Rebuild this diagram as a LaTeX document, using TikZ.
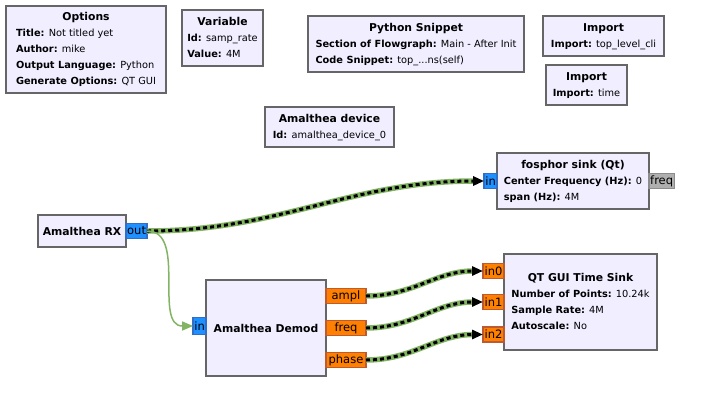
\documentclass[tikz,border=0pt]{standalone}
\usepackage{fontspec}
\setmainfont{DejaVu Sans}
\usepackage{tikz}
\usetikzlibrary{arrows.meta,positioning}
\definecolor{blockfill}{RGB}{240,238,255}
\definecolor{blockline}{RGB}{102,102,102}
\definecolor{cplxfill}{RGB}{30,144,255}
\definecolor{cplxline}{RGB}{48,110,200}
\definecolor{floatfill}{RGB}{255,128,0}
\definecolor{floatline}{RGB}{190,90,50}
\definecolor{msgfill}{RGB}{175,175,175}
\definecolor{msgline}{RGB}{140,140,140}
\definecolor{linkgreen}{RGB}{130,180,100}
\newcommand{\blocktitle}[1]{\multicolumn{1}{c}{\fontsize{10.8}{16}\selectfont\bfseries #1}}

\begin{document}
\begin{tikzpicture}[x=1pt,y=-1pt,>={Triangle[length=11pt,width=9pt]},
    blk/.style={draw=blockline,fill=blockfill,line width=2pt,outer sep=0pt,inner sep=0pt,
      font=\fontsize{9.8}{16}\selectfont},
    port/.style={draw,line width=1.5pt,outer sep=0pt,inner xsep=1.2pt,inner ysep=0pt,
      minimum height=15pt,font=\fontsize{11.5}{12}\selectfont},
    cplx/.style={port,draw=cplxline,fill=cplxfill},
    flt/.style={port,draw=floatline,fill=floatfill},
    msgport/.style={port,draw=msgline,fill=msgfill},
    stream/.style={draw=black,line width=3pt,dash pattern=on 4pt off 3pt,
      preaction={draw=linkgreen,line width=5.5pt,shorten >=10pt,-},->},
    msg/.style={draw=linkgreen,line width=1.5pt,->}]

  \useasboundingbox (0,0) rectangle (705,408);

  \node[blk,minimum width=160pt,minimum height=87pt](opt) at (86,49.5){%
    \begin{tabular}{@{}l@{}}\blocktitle{Options}\\
      \textbf{Title:} Not titled yet\\ \textbf{Author:} mike\\
      \textbf{Output Language:} Python\\ \textbf{Generate Options:} QT GUI\end{tabular}};
  \node[blk,minimum width=81pt,minimum height=56pt](var) at (222.5,38){%
    \begin{tabular}{@{}l@{}}\blocktitle{Variable}\\
      \textbf{Id:} samp\_rate\\ \textbf{Value:} 4M\end{tabular}};
  \node[blk,minimum width=216pt,minimum height=56pt](snip) at (416,44){%
    \begin{tabular}{@{}l@{}}\blocktitle{Python Snippet}\\
      \textbf{Section of Flowgraph:} Main - After Init\\
      \textbf{Code Snippet:} top\_...ns(self)\end{tabular}};
  \node[blk,minimum width=121pt,minimum height=40pt](imp1) at (603.5,36){%
    \begin{tabular}{@{}l@{}}\blocktitle{Import}\\
      \textbf{Import:} top\_level\_cli\end{tabular}};
  \node[blk,minimum width=81pt,minimum height=40pt](imp2) at (586.5,85){%
    \begin{tabular}{@{}l@{}}\blocktitle{Import}\\
      \textbf{Import:} time\end{tabular}};
  \node[blk,minimum width=129pt,minimum height=40pt](dev) at (329.5,127){%
    \begin{tabular}{@{}l@{}}\blocktitle{Amalthea device}\\
      \textbf{Id:} amalthea\_device\_0\end{tabular}};
  \node[blk,minimum width=152pt,minimum height=56pt](fs) at (573,181){%
    \begin{tabular}{@{}l@{}}\blocktitle{fosphor sink (Qt)}\\
      \textbf{Center Frequency (Hz):} 0\\ \textbf{span (Hz):} 4M\end{tabular}};
  \node[blk,minimum width=88pt,minimum height=32pt](rx) at (82,231){%
    \fontsize{10.8}{16}\selectfont\bfseries Amalthea RX};
  \node[blk,minimum width=120pt,minimum height=96pt](dm) at (266,328){%
    \fontsize{10.8}{16}\selectfont\bfseries Amalthea Demod};
  \node[blk,minimum width=153pt,minimum height=96pt](ts) at (580.5,302){%
    \begin{tabular}{@{}l@{}}\blocktitle{QT GUI Time Sink}\\
      \textbf{Number of Points:} 10.24k\\ \textbf{Sample Rate:} 4M\\
      \textbf{Autoscale:} No\end{tabular}};

  % ports
  \node[cplx,right=0pt of rx](rxout){out};
  \node[cplx,left=0pt of fs](fsin){in};
  \node[msgport,right=0pt of fs](fsfreq){freq};
  \node[cplx,left=0pt of dm,yshift=2pt,minimum height=17pt](dmin){in};
  \node[flt,right=0pt of dm,yshift=32pt,minimum width=40pt](ampl){ampl};
  \node[flt,right=0pt of dm,minimum width=40pt](freq){freq};
  \node[flt,right=0pt of dm,yshift=-32pt,minimum width=40pt](phase){phase};
  \node[flt,left=0pt of ts,yshift=31pt,minimum width=21pt](in0){in0};
  \node[flt,left=0pt of ts,minimum width=21pt](in1){in1};
  \node[flt,left=0pt of ts,yshift=-32.5pt,minimum width=21pt](in2){in2};

  % connections
  \draw[stream] (rxout.east) to[out=0,in=180] (fsin.west);
  \draw[msg] (rxout.east) .. controls +(40,0) and +(-40,0) .. (dmin.west);
  \draw[stream] (ampl.east) to[out=0,in=180] (in0.west);
  \draw[stream] (freq.east) to[out=0,in=180] (in1.west);
  \draw[stream] (phase.east) to[out=0,in=180] (in2.west);
\end{tikzpicture}
\end{document}
